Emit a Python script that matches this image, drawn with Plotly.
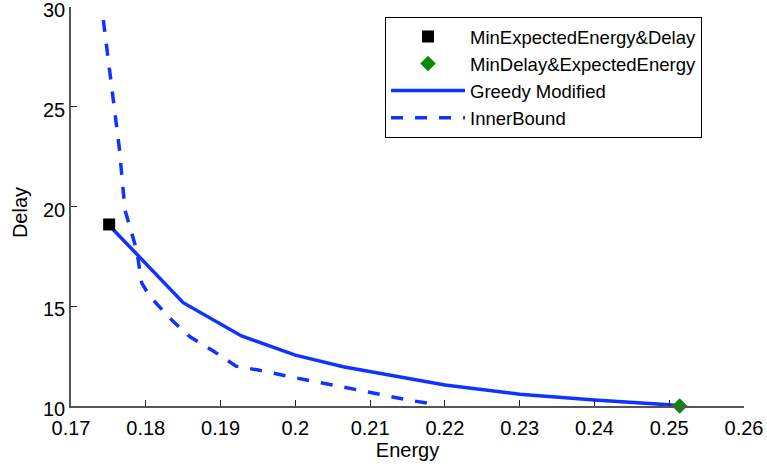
import plotly.graph_objects as go

# Data
greedy_energy = [0.17512, 0.1850, 0.1928, 0.2000, 0.2064, 0.2100, 0.2135, 0.2200, 0.2300, 0.2400, 0.2500, 0.2515]
greedy_delay = [19.05, 15.18, 13.51, 12.55, 11.97, 11.72, 11.47, 11.05, 10.59, 10.30, 10.06, 10.00]

inner_energy = [0.17432, 0.17646, 0.17722, 0.17878, 0.17945, 0.18056, 0.18368, 0.18591, 0.18881, 0.19206,
                0.19504, 0.19838, 0.20151, 0.20507, 0.20841, 0.21175, 0.21509, 0.21844, 0.2191]
inner_delay = [29.35, 22.93, 19.82, 17.82, 16.17, 15.48, 14.23, 13.47, 12.81, 12.00,
               11.80, 11.52, 11.30, 11.05, 10.80, 10.55, 10.30, 10.10, 10.00]

min_exp_energy = [0.1751]
min_exp_delay = [19.1]
min_delay_energy = [0.2514]
min_delay_delay = [10.0]

x_ticks = [0.17, 0.18, 0.19, 0.2, 0.21, 0.22, 0.23, 0.24, 0.25, 0.26]
x_tick_labels = ["0.17", "0.18", "0.19", "0.2", "0.21", "0.22", "0.23", "0.24", "0.25", "0.26"]
y_ticks = [10, 15, 20, 25, 30]

blue = "#1133ff"
font_family = "Liberation Sans, Arial, Helvetica, sans-serif"

fig = go.Figure()
fig.add_trace(go.Scatter(x=greedy_energy, y=greedy_delay, mode="lines", name="Greedy Modified",
                         line=dict(color=blue, width=3.5), legendrank=3, cliponaxis=False))
fig.add_trace(go.Scatter(x=inner_energy, y=inner_delay, mode="lines", name="InnerBound",
                         line=dict(color=blue, width=3.5, dash="12px,12px"), legendrank=4, cliponaxis=False))
fig.add_trace(go.Scatter(x=min_exp_energy, y=min_exp_delay, mode="markers", name="MinExpectedEnergy&Delay",
                         marker=dict(symbol="square", color="black", size=12), legendrank=1, cliponaxis=False))
fig.add_trace(go.Scatter(x=min_delay_energy, y=min_delay_delay, mode="markers", name="MinDelay&ExpectedEnergy",
                         marker=dict(symbol="diamond", color="#078a07", size=12), legendrank=2, cliponaxis=False))

fig.update_layout(
    width=767, height=468,
    margin=dict(l=71, r=23, t=7, b=62, autoexpand=False),
    paper_bgcolor="white", plot_bgcolor="white",
    font=dict(family=font_family, size=20, color="black"),
    showlegend=True,
    legend=dict(x=0.4666, y=0.975, xanchor="left", yanchor="top",
                bordercolor="black", borderwidth=1, bgcolor="white",
                font=dict(size=18.5), itemwidth=74, tracegroupgap=0,
                traceorder="normal"),
    xaxis=dict(range=[0.17, 0.26], tickvals=x_ticks, ticktext=x_tick_labels, automargin=False,
               ticks="inside", ticklen=6, tickcolor="#222", tickwidth=1, ticklabeloverflow="allow",
               ticklabelstandoff=3,
               showline=True, linecolor="#555", linewidth=1.5, showgrid=False, zeroline=False,
               tickfont=dict(size=20), title=dict(text="Energy", font=dict(size=20), standoff=4)),
    yaxis=dict(range=[10, 30], tickvals=y_ticks, automargin=False,
               ticks="inside", ticklen=6, tickcolor="#222", tickwidth=1, ticklabeloverflow="allow",
               ticklabelshift=3,
               showline=True, linecolor="#555", linewidth=1.5, showgrid=False, zeroline=False,
               tickfont=dict(size=20)),
    annotations=[dict(text="Delay", textangle=-90, xref="paper", yref="paper",
                      x=-0.0758, y=0.486, xanchor="center", yanchor="middle",
                      showarrow=False, font=dict(size=20))],
)

fig.write_html("out.html", config={"displayModeBar": False},
               post_script="document.body.style.margin='0';")
